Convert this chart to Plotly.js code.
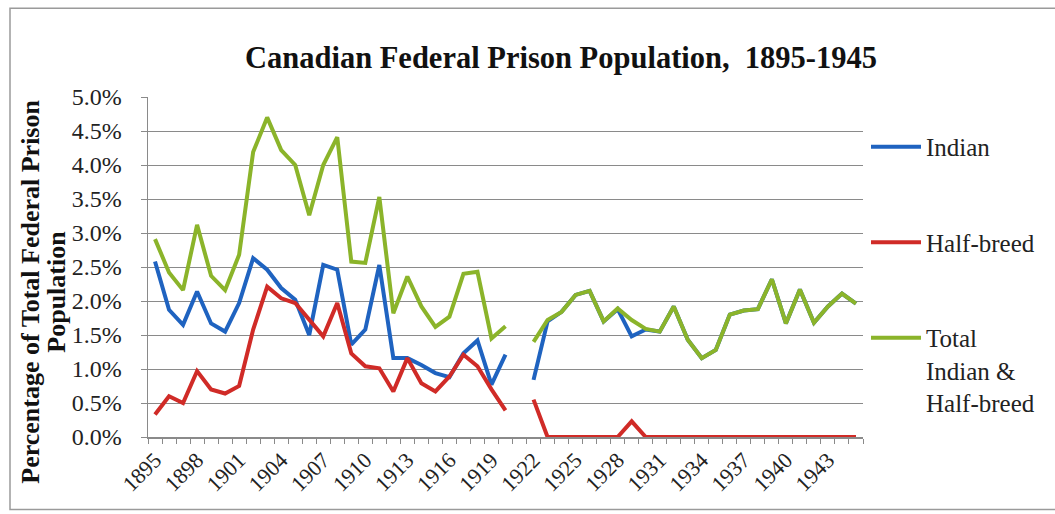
<!DOCTYPE html>
<html>
<head>
<meta charset="utf-8">
<script src="https://cdn.plot.ly/plotly-3.0.1.min.js"></script>
<style>
  html, body { margin: 0; padding: 0; background: #fff; }
  #chart { width: 1055px; height: 514px; }
</style>
</head>
<body>
<div id="chart"></div>
<script>
// ---- Data (percent of total federal prison population) ----
const years = [1895,1896,1897,1898,1899,1900,1901,1902,1903,1904,1905,1906,1907,1908,1909,1910,
  1911,1912,1913,1914,1915,1916,1917,1918,1919,1920,1921,1922,1923,1924,1925,1926,1927,1928,1929,1930,
  1931,1932,1933,1934,1935,1936,1937,1938,1939,1940,1941,1942,1943,1944,1945];

const indian = [2.58,1.87,1.65,2.14,1.67,1.55,1.97,2.63,2.46,2.19,2.02,1.50,2.53,2.46,1.36,1.58,
  2.53,1.16,1.16,1.06,0.94,0.88,1.23,1.42,0.77,1.21,null,0.84,1.70,1.84,2.09,2.15,1.70,1.88,1.48,1.58,
  1.55,1.92,1.43,1.16,1.28,1.80,1.86,1.88,2.32,1.67,2.17,1.68,1.92,2.11,1.96];

const halfBreed = [0.33,0.60,0.50,0.97,0.70,0.64,0.75,1.58,2.21,2.04,1.97,1.72,1.48,1.97,1.23,1.04,
  1.01,0.67,1.16,0.79,0.67,0.89,1.21,1.04,0.70,0.39,null,0.55,0,0,0,0,0,0,0.23,0,
  0,0,0,0,0,0,0,0,0,0,0,0,0,0,0];

const total = [2.91,2.42,2.16,3.12,2.37,2.16,2.68,4.19,4.70,4.22,4.00,3.26,4.00,4.41,2.58,2.56,
  3.53,1.82,2.36,1.92,1.62,1.77,2.40,2.43,1.45,1.63,null,1.40,1.72,1.84,2.09,2.15,1.70,1.89,1.72,1.59,
  1.55,1.92,1.43,1.16,1.28,1.80,1.86,1.88,2.32,1.67,2.17,1.68,1.92,2.11,1.96];

const tickYears = [1895,1898,1901,1904,1907,1910,1913,1916,1919,1922,1925,1928,1931,1934,1937,1940,1943];

const seriesNames = ['Indian', 'Half-breed', 'Total<br>Indian &amp;<br>Half-breed'];
const seriesColors = ['#1F63C0', '#D02B27', '#8BB42A'];

// ---- Layout geometry (pixels) ----
const W = 1055, H = 514;
const L = 148, R = 863, T = 97, B = 437.5;
const pw = R - L, ph = B - T;
const px = v => (v - L) / pw;
const py = v => (B - v) / ph;

const serif = 'Liberation Serif';

const traces = [indian, halfBreed, total].map((arr, i) => ({
  type: 'scatter',
  mode: 'lines',
  x: years,
  y: arr,
  name: seriesNames[i],
  legendgroup: 'g' + i,
  line: { color: seriesColors[i], width: 4 },
  connectgaps: false,
  hoverinfo: 'x+y+name'
}));

const layout = {
  width: W, height: H,
  paper_bgcolor: '#fff',
  plot_bgcolor: '#fff',
  margin: { l: L, r: W - R, t: T, b: H - B, pad: 0 },
  font: { family: serif, color: '#222', size: 22 },
  title: {
    text: 'Canadian Federal Prison Population,&nbsp;&nbsp;1895-1945',
    font: { family: serif, size: 30.5, weight: 'bold', color: '#111' },
    xref: 'paper', x: px(561), xanchor: 'center',
    yref: 'container', y: 1 - 57 / H, yanchor: 'middle'
  },
  xaxis: {
    range: [1894.5, 1945.5],
    tickmode: 'array',
    tickvals: tickYears,
    ticktext: tickYears.map(String),
    tickangle: -45,
    ticks: '',
    tickfont: { family: serif, size: 22, color: '#222' },
    showgrid: false,
    zeroline: false,
    showline: true,
    linecolor: '#8a8a8a',
    linewidth: 1.5,
    minor: { tick0: 1894.5, dtick: 1, ticks: 'outside', ticklen: 5, tickcolor: '#8a8a8a', showgrid: false },
    fixedrange: true
  },
  yaxis: {
    range: [0, 5],
    dtick: 0.5,
    tick0: 0,
    tickformat: '.1f',
    ticksuffix: '%',
    ticks: 'outside',
    ticklen: 6,
    tickcolor: '#8a8a8a',
    ticklabelstandoff: 14,
    tickfont: { family: serif, size: 24, color: '#222' },
    showgrid: true,
    gridcolor: '#8a8a8a',
    gridwidth: 1,
    zeroline: false,
    showline: true,
    linecolor: '#8a8a8a',
    linewidth: 1.5,
    fixedrange: true
  },
  showlegend: true,
  legend: {
    x: px(866), xanchor: 'left',
    y: py(124), yanchor: 'top',
    traceorder: 'grouped',
    tracegroupgap: 60,
    valign: 'top',
    itemwidth: 50,
    font: { family: serif, size: 25, color: '#222' },
    bgcolor: 'rgba(0,0,0,0)',
    borderwidth: 0
  },
  annotations: [
    {
      text: '<b>Percentage of Total Federal Prison</b>',
      xref: 'paper', yref: 'paper', x: px(31), y: py(292),
      xanchor: 'center', yanchor: 'middle', textangle: -90, showarrow: false,
      font: { family: serif, size: 26, color: '#111' }
    },
    {
      text: '<b>Population</b>',
      xref: 'paper', yref: 'paper', x: px(57), y: py(292),
      xanchor: 'center', yanchor: 'middle', textangle: -90, showarrow: false,
      font: { family: serif, size: 26, color: '#111' }
    }
  ],
  shapes: [
    {
      type: 'rect', xref: 'paper', yref: 'paper',
      x0: px(10), x1: px(1060), y0: py(510), y1: py(8),
      line: { color: '#9a9a9a', width: 1.5 }, fillcolor: 'rgba(0,0,0,0)', layer: 'below'
    }
  ]
};

Plotly.newPlot('chart', traces, layout, { displayModeBar: false, staticPlot: true });
</script>
</body>
</html>
